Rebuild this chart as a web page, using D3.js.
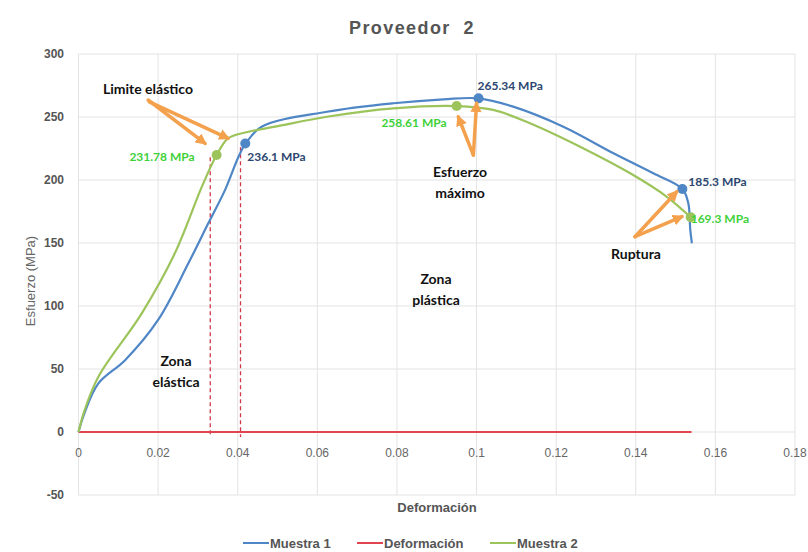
<!DOCTYPE html>
<html>
<head>
<meta charset="utf-8">
<script src="https://cdn.jsdelivr.net/npm/d3@7"></script>
<style>
  body { margin: 0; background: #fff; }
  svg { display: block; }
</style>
</head>
<body>
<svg id="chart" width="808" height="552"></svg>
<script>
// ---- Data ----
const muestra1X = [0, 0.0015, 0.005, 0.0117, 0.02, 0.0276, 0.0326, 0.0368, 0.0402, 0.042, 0.046, 0.0624, 0.0791, 0.0917, 0.1005, 0.1092, 0.1218, 0.1344, 0.1444, 0.1517, 0.1532, 0.1537, 0.1541];
const muestra1Y = [0, 15, 38.6, 57, 88.9, 133.9, 165.6, 192, 218.5, 229, 242.3, 254.2, 260.9, 264, 264.8, 258.2, 242.3, 221.2, 205.3, 192.9, 181.5, 160.3, 149.8];
const muestra2X = [0, 0.0015, 0.005, 0.0159, 0.0242, 0.031, 0.0347, 0.0376, 0.0427, 0.0494, 0.0624, 0.0791, 0.095, 0.1042, 0.1134, 0.126, 0.1386, 0.1478, 0.1538];
const muestra2Y = [0, 17, 43.9, 94.2, 141.8, 194.7, 219.8, 233.1, 238.3, 242.3, 250.2, 256.9, 258.7, 255.6, 245, 226.4, 205.3, 186.7, 170.4];
const deformacionX = [0, 0.154];
const deformacionY = [0, 0];

const xTicks = [0, 0.02, 0.04, 0.06, 0.08, 0.1, 0.12, 0.14, 0.16, 0.18];
const xTickLabels = ["0", "0.02", "0.04", "0.06", "0.08", "0.1", "0.12", "0.14", "0.16", "0.18"];
const yTicks = [-50, 0, 50, 100, 150, 200, 250, 300];

// key points
const pointsX = [0.0419, 0.1005, 0.1517, 0.0347, 0.095, 0.1538];
const pointsY = [229, 264.8, 192.9, 219.8, 258.7, 170.4];
const pointLabels = ["236.1 MPa", "265.34 MPa", "185.3 MPa", "231.78 MPa", "258.61 MPa", "169.3 MPa"];
const pointSeries = [1, 1, 1, 2, 2, 2];

// elastic-limit dashed guides
const guideX = [0.0331, 0.0407];
const guideTop = [218, 226];

// annotation arrows: tail -> head (data units)
const arrowTailX = [0.0175, 0.0178, 0.0992, 0.0992, 0.1398, 0.1398];
const arrowTailY = [263.5, 262, 219.8, 219.8, 155, 155];
const arrowHeadX = [0.0318, 0.0376, 0.0954, 0.1, 0.1503, 0.1516];
const arrowHeadY = [229.1, 233.1, 250.2, 260.9, 190.7, 170.9];

// ---- Chart ----
const svg = d3.select("#chart");
const x = d3.scaleLinear().domain([0, 0.18]).range([78.5, 795]);
const y = d3.scaleLinear().domain([-50, 300]).range([495, 54]);

const blue = "#4f86c6", green = "#9cc45a", red = "#e0454f", orange = "#f4a14e";
const fontSans = "'Liberation Sans', Arial, sans-serif";
const fontNote = "Lato, 'Open Sans', sans-serif";

// grid
svg.append("g").selectAll("line").data(yTicks).join("line")
  .attr("x1", x(0)).attr("x2", x(0.18))
  .attr("y1", d => y(d)).attr("y2", d => y(d))
  .attr("stroke", "#e3e3e3").attr("stroke-width", 1);
svg.append("g").selectAll("line").data(xTicks).join("line")
  .attr("x1", d => x(d)).attr("x2", d => x(d))
  .attr("y1", y(300)).attr("y2", y(-50))
  .attr("stroke", "#e3e3e3").attr("stroke-width", 1);

// y tick labels
svg.append("g").selectAll("text").data(yTicks).join("text")
  .attr("x", 64).attr("y", d => y(d)).attr("dy", "0.35em")
  .attr("text-anchor", "end")
  .attr("font-family", fontSans).attr("font-size", 12).attr("font-weight", "bold")
  .attr("fill", "#555").text(d => d);

// x tick labels
svg.append("g").selectAll("text").data(xTicks).join("text")
  .attr("x", d => x(d)).attr("y", y(0) + 25)
  .attr("text-anchor", "middle")
  .attr("font-family", fontSans).attr("font-size", 12)
  .attr("fill", "#666").text((d, i) => xTickLabels[i]);

// title
svg.append("text").attr("x", 412).attr("y", 34).attr("text-anchor", "middle")
  .attr("font-family", fontSans).attr("font-size", 18).attr("font-weight", "bold")
  .attr("letter-spacing", 1.4).attr("fill", "#555").attr("xml:space", "preserve")
  .text("Proveedor  2");

// axis titles
svg.append("text").attr("transform", "translate(35,281) rotate(-90)")
  .attr("text-anchor", "middle").attr("font-family", fontSans).attr("font-size", 13)
  .attr("fill", "#666").text("Esfuerzo (MPa)");
svg.append("text").attr("x", 437).attr("y", 512).attr("text-anchor", "middle")
  .attr("font-family", fontSans).attr("font-size", 13).attr("font-weight", "bold")
  .attr("fill", "#555").text("Deformación");

// dashed guides
svg.append("g").selectAll("line").data(guideX).join("line")
  .attr("x1", d => x(d)).attr("x2", d => x(d))
  .attr("y1", (d, i) => y(guideTop[i])).attr("y2", y(0) + 5)
  .attr("stroke", "#d2384a").attr("stroke-width", 1.3).attr("stroke-dasharray", "4,3");

// lines
const line = d3.line().x(d => x(d[0])).y(d => y(d[1])).curve(d3.curveCatmullRom.alpha(0.5));
svg.append("path").datum(deformacionX.map((v, i) => [v, deformacionY[i]]))
  .attr("d", line).attr("fill", "none").attr("stroke", red).attr("stroke-width", 2);
svg.append("path").datum(muestra1X.map((v, i) => [v, muestra1Y[i]]))
  .attr("d", line).attr("fill", "none").attr("stroke", blue).attr("stroke-width", 2.2);
svg.append("path").datum(muestra2X.map((v, i) => [v, muestra2Y[i]]))
  .attr("d", line).attr("fill", "none").attr("stroke", green).attr("stroke-width", 2.2);

// points
svg.append("g").selectAll("circle").data(pointsX).join("circle")
  .attr("cx", d => x(d)).attr("cy", (d, i) => y(pointsY[i])).attr("r", 5)
  .attr("fill", (d, i) => pointSeries[i] === 1 ? blue : green);

// point labels
const labelDX = [2, -1, 6, -22, -10, 0];
const labelDY = [18, -8, -3, 6, 21, 6];
const labelAnchor = ["start", "start", "start", "end", "end", "start"];
svg.append("g").selectAll("text").data(pointLabels).join("text")
  .attr("x", (d, i) => x(pointsX[i]) + labelDX[i])
  .attr("y", (d, i) => y(pointsY[i]) + labelDY[i])
  .attr("text-anchor", (d, i) => labelAnchor[i])
  .attr("font-family", fontNote).attr("font-size", 12).attr("font-weight", "bold")
  .attr("fill", (d, i) => pointSeries[i] === 1 ? "#2c4670" : "#3fd13a")
  .text(d => d);

// arrows
const defs = svg.append("defs");
defs.append("marker").attr("id", "ah").attr("viewBox", "0 0 10 10")
  .attr("refX", 8).attr("refY", 5).attr("markerWidth", 3.2).attr("markerHeight", 3.2)
  .attr("orient", "auto").attr("markerUnits", "strokeWidth")
  .append("path").attr("d", "M0,0 L10,5 L0,10 z").attr("fill", orange);
svg.append("g").selectAll("line").data(arrowTailX).join("line")
  .attr("x1", d => x(d)).attr("y1", (d, i) => y(arrowTailY[i]))
  .attr("x2", (d, i) => x(arrowHeadX[i])).attr("y2", (d, i) => y(arrowHeadY[i]))
  .attr("stroke", orange).attr("stroke-width", 3.5).attr("stroke-linecap", "round")
  .attr("marker-end", "url(#ah)");

// notes
const notes = [
  { t: ["Limite elástico"], x: 148, y: 94 },
  { t: ["Esfuerzo", "máximo"], x: 460, y: 177 },
  { t: ["Ruptura"], x: 636, y: 259 },
  { t: ["Zona", "elástica"], x: 176, y: 366 },
  { t: ["Zona", "plástica"], x: 436, y: 284 }
];
notes.forEach(n => {
  const t = svg.append("text").attr("x", n.x).attr("y", n.y).attr("text-anchor", "middle")
    .attr("font-family", fontNote).attr("font-size", 14).attr("font-weight", "bold").attr("fill", "#111");
  n.t.forEach((s, i) => t.append("tspan").attr("x", n.x).attr("dy", i === 0 ? 0 : 21).text(s));
});

// legend
const legendNames = ["Muestra 1", "Deformación", "Muestra 2"];
const legendColors = [blue, red, green];
const legendX = [243, 357, 490];
const lg = svg.append("g").selectAll("g").data(legendNames).join("g")
  .attr("transform", (d, i) => `translate(${legendX[i]},543)`);
lg.append("line").attr("x1", 0).attr("x2", 26).attr("y1", 0).attr("y2", 0)
  .attr("stroke", (d, i) => legendColors[i]).attr("stroke-width", 2);
lg.append("text").attr("x", 27).attr("y", 0).attr("dy", "0.35em")
  .attr("font-family", fontSans).attr("font-size", 13).attr("font-weight", "bold")
  .attr("fill", "#555").text(d => d);
</script>
</body>
</html>
